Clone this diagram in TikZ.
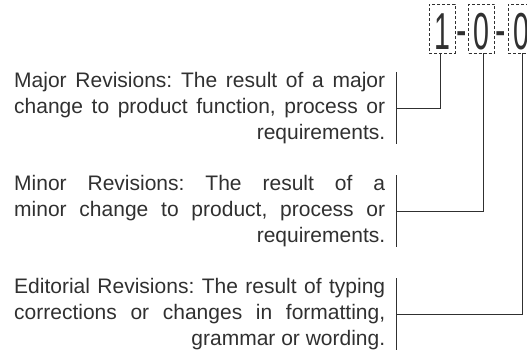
\documentclass[tikz,border=0pt]{standalone}
\usepackage{fontspec}
\usepackage{graphicx}
\usetikzlibrary{calc}
\setmainfont{Liberation Sans}
\definecolor{ink}{HTML}{303030}
\newcommand{\fullline}[1]{\hbox to \linewidth{\spaceskip=0.278em plus 1fil\relax #1}}
\tikzset{
  digitbox/.style={draw=ink, dashed, dash pattern=on 3pt off 2pt, line width=0.9pt,
    minimum width=26pt, minimum height=49pt, inner sep=0pt, text=ink,
    text height=43pt, text depth=0pt,
    font=\fontsize{52}{52}\selectfont},
  hyph/.style={anchor=base, inner sep=0pt, text=ink, font=\fontsize{52}{52}\selectfont},
  para/.style={anchor=north west, inner sep=0pt, text width=371pt, text=ink,
    font=\fontsize{21}{26}\selectfont\frenchspacing},
  conn/.style={draw=ink, line width=0.9pt},
}
\begin{document}
\begin{tikzpicture}[x=1pt,y=-1pt]
\useasboundingbox (0,0) rectangle (527,350);
% revision number
\node[digitbox] (d1) at (442,28.5) {\scalebox{0.55}[1]{1}};
\node[digitbox] (d2) at (481.5,28.5) {\scalebox{0.55}[1]{0}};
\node[digitbox] (d3) at (521,28.5) {\scalebox{0.55}[1]{0}};
\node[hyph] (h1) at (462,48) {\scalebox{0.6}[1]{-}};
\node[hyph] (h2) at (501,48) {\scalebox{0.6}[1]{-}};
% paragraphs
\node[para] (p1) at (14,72) {%
\fullline{Major Revisions: The result of a major}
\fullline{change to product function, process or}
\fullline{\hfill requirements.}};
\node[para] (p2) at (14,175) {%
\fullline{Minor Revisions: The result of a}
\fullline{minor change to product, process or}
\fullline{\hfill requirements.}};
\node[para] (p3) at (14,278) {%
\fullline{Editorial Revisions: The result of typing}
\fullline{corrections or changes in formatting,}
\fullline{\hfill grammar or wording.}};
% brackets
\foreach \p in {p1,p2,p3}{
  \coordinate (\p t) at ([xshift=11pt]\p.north east);
  \coordinate (\p b) at ([xshift=11pt]\p.south east);
  \coordinate (\p m) at ($(\p t)!0.5!(\p b)$);
  \draw[conn] (\p t) -- (\p b);
}
% connectors
\draw[conn] ([xshift=-2pt]d1.south) |- (p1m);
\draw[conn] ([xshift=1.5pt]d2.south) |- (p2m);
\draw[conn] ([xshift=1pt]d3.south) |- (p3m);
\end{tikzpicture}
\end{document}
